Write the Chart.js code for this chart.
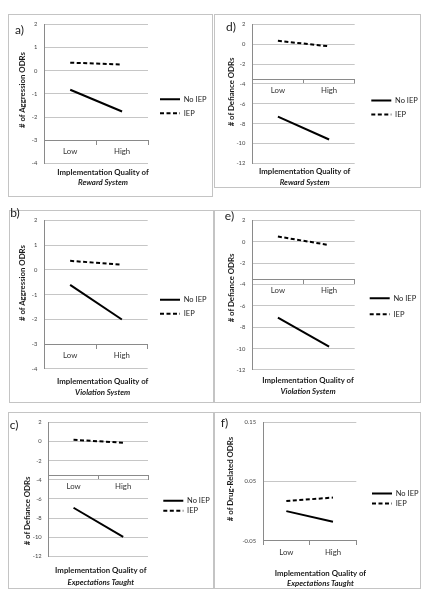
<!DOCTYPE html>
<html>
<head>
<meta charset="utf-8">
<script src="https://cdn.jsdelivr.net/npm/chart.js@4/dist/chart.umd.min.js"></script>
<style>
  html, body { margin: 0; padding: 0; background: #fff; }
  body { width: 436px; height: 600px; position: relative; overflow: hidden; font-family: Lato, "Open Sans", sans-serif; }
  .box { position: absolute; border: 1px solid #c4c4c4; box-sizing: border-box; }
  canvas { position: absolute; }
  .ytitle { position: absolute; font-weight: bold; font-size: 7.8px; color: #1a1a1a; white-space: nowrap; transform: translate(-50%, -50%) rotate(-90deg); line-height: 10px; }
  .xtitle { position: absolute; font-weight: bold; font-size: 7.8px; color: #1a1a1a; white-space: nowrap; transform: translate(-50%, -50%); line-height: 10px; }
  .xtitle.it { font-style: italic; }
  .tag { position: absolute; font-size: 12px; color: #222; transform: translate(-50%, -50%); line-height: 14px; }
</style>
</head>
<body>
<script>
// ---- data ----
const categories = ['Low', 'High'];
const seriesNames = ['No IEP', 'IEP'];
const aNoIEP = [-0.82, -1.76];
const aIEP = [0.35, 0.27];
const bNoIEP = [-0.6, -2.0];
const bIEP = [0.37, 0.21];
const cNoIEP = [-6.92, -9.97];
const cIEP = [0.19, -0.12];
const dNoIEP = [-7.3, -9.6];
const dIEP = [0.35, -0.2];
const eNoIEP = [-7.1, -9.8];
const eIEP = [0.5, -0.3];
const fNoIEP = [0.0, -0.018];
const fIEP = [0.017, 0.023];
const yTitles = ['# of Aggression ODRs', '# of Aggression ODRs', '# of Defiance ODRs', '# of Defiance ODRs', '# of Defiance ODRs', '# of Drug-Related ODRs'];
const xTitleTop = 'Implementation Quality of';
const xTitleBottoms = ['Reward System', 'Violation System', 'Expectations Taught', 'Reward System', 'Violation System', 'Expectations Taught'];
const panelTags = ['a)', 'b)', 'c)', 'd)', 'e)', 'f)'];

// ---- layout (page pixel coords) ----
const layouts = [
  { box: [8, 14, 213, 197], plot: [44.3, 23.3, 148, 163.3], yMin: -4, yMax: 2, step: 1, axisAt: -3, legX: 160, legY: [98, 112], yT: [21.7, 90], xT: [103, 172, 182], tag: [19.5, 30] },
  { box: [9, 210, 214, 403], plot: [44.3, 219, 147.7, 369], yMin: -4, yMax: 2, step: 1, axisAt: -3, legX: 160, legY: [298.3, 312.3], yT: [21.7, 283], xT: [102.7, 380.7, 391.7], tag: [15, 212.5] },
  { box: [8, 412, 214, 589], plot: [48.7, 420, 148, 556.3], yMin: -12, yMax: 2, step: 2, axisAt: -3.5, legX: 163.3, legY: [498.3, 508.3], yT: [26.7, 511], xT: [100.8, 570, 581.7], tag: [14, 425] },
  { box: [214, 14, 421, 188], plot: [252.3, 23.3, 354.7, 163.3], yMin: -12, yMax: 2, step: 2, axisAt: -3.5, legX: 371.3, legY: [99.3, 113.3], yT: [231.3, 91.7], xT: [304.7, 170.7, 181.7], tag: [231, 27] },
  { box: [214, 210, 421, 403], plot: [252.3, 219, 354.7, 370], yMin: -12, yMax: 2, step: 2, axisAt: -3.5, legX: 369.7, legY: [296.7, 312.7], yT: [231.3, 288], xT: [308, 380, 391], tag: [229.5, 215.5] },
  { box: [214, 412, 421, 589], plot: [263, 420.7, 356.3, 540.7], yMin: -0.05, yMax: 0.15, step: 0.1, axisAt: -0.05, legX: 372, legY: [491.7, 501.7], yT: [229.7, 479], xT: [320.4, 573.3, 582.7], tag: [224.5, 422.5] }
];
const seriesData = [[aNoIEP, aIEP], [bNoIEP, bIEP], [cNoIEP, cIEP], [dNoIEP, dIEP], [eNoIEP, eIEP], [fNoIEP, fIEP]];

const FONT = 'Lato, "Open Sans", sans-serif';
const LEG_FS = 7.5;
const LEG_W = 56;
const PSW = 20;
const DASH = [4, 2.5];

function addDiv(cls, text, x, y) {
  const d = document.createElement('div');
  d.className = cls;
  d.textContent = text;
  d.style.left = x + 'px';
  d.style.top = y + 'px';
  document.body.appendChild(d);
  return d;
}

function legendLabels(chart) {
  const items = Chart.defaults.plugins.legend.labels.generateLabels(chart);
  items.forEach(it => {
    const ds = chart.data.datasets[it.datasetIndex];
    it.lineDash = ds.borderDash || [];
    it.lineWidth = ds.borderWidth;
    it.strokeStyle = ds.borderColor;
    it.fillStyle = ds.borderColor;
    it.pointStyle = 'line';
  });
  return items;
}

layouts.forEach((L, i) => {
  const [bL, bT, bR, bB] = L.box;
  const [pL, pT, pR, pB] = L.plot;
  const W = bR - bL, H = bB - bT;

  const border = document.createElement('div');
  border.className = 'box';
  Object.assign(border.style, { left: bL + 'px', top: bT + 'px', width: W + 'px', height: H + 'px' });
  document.body.appendChild(border);

  const spacing = L.legY[1] - L.legY[0];
  const lp = spacing - LEG_FS;
  const gap = L.legX - lp - pR;
  const titlePad = L.legY[0] - pT - 1 - lp - LEG_FS / 2;
  const CW = Math.round((pR - bL) + gap + LEG_W);

  const cv = document.createElement('canvas');
  cv.width = CW; cv.height = H;
  Object.assign(cv.style, { left: bL + 'px', top: bT + 'px', width: CW + 'px', height: H + 'px' });
  document.body.appendChild(cv);

  const padRight = CW - (pR - bL) - gap - LEG_W;

  const [noIEP, iep] = seriesData[i];
  new Chart(cv, {
    type: 'line',
    data: {
      labels: categories,
      datasets: [
        { label: seriesNames[0], data: noIEP, borderColor: '#000', backgroundColor: '#000', borderWidth: 2, pointRadius: 0, pointHoverRadius: 0, pointStyle: 'line', tension: 0, fill: false },
        { label: seriesNames[1], data: iep, borderColor: '#000', backgroundColor: '#000', borderWidth: 2, borderDash: DASH, pointRadius: 0, pointHoverRadius: 0, pointStyle: 'line', tension: 0, fill: false }
      ]
    },
    options: {
      responsive: false, animation: false, devicePixelRatio: 1,
      layout: { padding: { left: 0, top: pT - bT, bottom: bB - pB, right: padRight } },
      plugins: {
        tooltip: { enabled: false },
        legend: {
          position: 'right', fullSize: false, align: 'start', maxWidth: LEG_W,
          title: { display: true, text: '', font: { size: 1, lineHeight: 1 }, padding: { top: titlePad, bottom: 0 } },
          labels: { usePointStyle: true, pointStyleWidth: PSW, padding: lp, color: '#222', font: { family: FONT, size: LEG_FS }, generateLabels: legendLabels }
        }
      },
      scales: {
        x: {
          type: 'category', offset: true, position: { y: L.axisAt },
          grid: { offset: true, drawOnChartArea: false, drawTicks: true, tickLength: 4, color: '#8a8a8a' },
          border: { color: '#8a8a8a', width: 1 },
          ticks: { color: '#333', padding: 3, maxRotation: 0, autoSkip: false, font: { family: FONT, size: 7.8 } }
        },
        y: {
          min: L.yMin, max: L.yMax,
          ticks: { stepSize: L.step, padding: 7, color: '#444', font: { family: FONT, size: 5.8 },
                   callback: v => (Math.round(v * 100) / 100).toString() },
          grid: { color: '#c6c6c6', drawTicks: false },
          border: { color: '#8a8a8a', width: 1 },
          afterFit: s => { s.width = pL - bL; }
        },
        gap: {
          type: 'linear', position: 'right', display: true,
          ticks: { display: false }, grid: { display: false }, border: { display: false },
          afterFit: s => { s.width = gap; }
        }
      }
    }
  });

  addDiv('ytitle', yTitles[i], L.yT[0], L.yT[1]);
  addDiv('xtitle', xTitleTop, L.xT[0], L.xT[1]);
  addDiv('xtitle it', xTitleBottoms[i], L.xT[0], L.xT[2]);
  addDiv('tag', panelTags[i], L.tag[0], L.tag[1]);
});
</script>
</body>
</html>
